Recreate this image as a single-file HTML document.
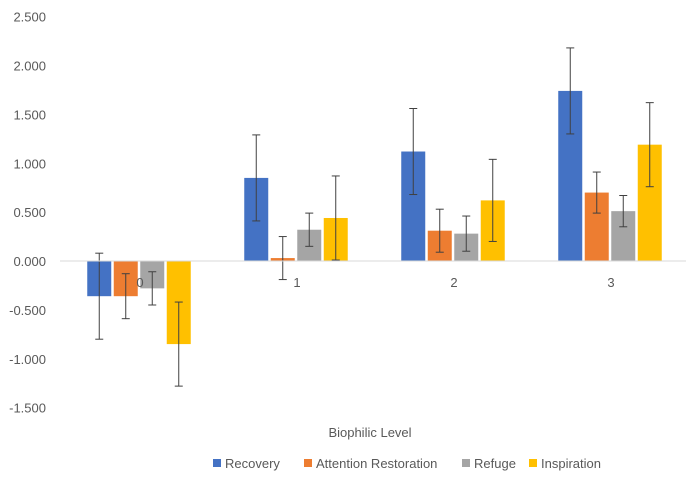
<!DOCTYPE html>
<html><head><meta charset="utf-8"><style>
body{margin:0;background:#fff;width:688px;height:487px;overflow:hidden}
text{font-family:"Liberation Sans",sans-serif;fill:#595959;font-size:13px}
</style></head><body>
<svg width="688" height="487">
<g id="ticks"></g><g id="bars"></g>
<line x1="60" x2="686" y1="261" y2="261" stroke="#d9d9d9"/>
<g id="cats"></g>
<text x="370" y="437" text-anchor="middle">Biophilic Level</text>
<g id="legend"></g>
</svg>
<script>
const categories=["0","1","2","3"];
const seriesNames=["Recovery","Attention Restoration","Refuge","Inspiration"];
const recovery=[-0.36,0.85,1.12,1.74];
const attention=[-0.36,0.03,0.31,0.70];
const refuge=[-0.28,0.32,0.28,0.51];
const inspiration=[-0.85,0.44,0.62,1.19];
const recoveryErr=[0.44,0.44,0.44,0.44];
const attentionErr=[0.23,0.22,0.22,0.21];
const refugeErr=[0.17,0.17,0.18,0.16];
const inspirationErr=[0.43,0.43,0.42,0.43];
const tickValues=[2.5,2,1.5,1,0.5,0,-0.5,-1,-1.5];
const colors=["#4472C4","#ED7D31","#A5A5A5","#FFC000"];
const NS="http://www.w3.org/2000/svg";
const y=v=>261-v*97.75;
const xc=i=>139+i*157;
function mk(t,a,p){const e=document.createElementNS(NS,t);for(const k in a)e.setAttribute(k,a[k]);p.appendChild(e);return e;}
const tk=document.getElementById('ticks');
tickValues.forEach(v=>{const t=mk('text',{x:46,y:y(v)+5,'text-anchor':'end'},tk);t.textContent=v.toFixed(3);

});
const data=[recovery,attention,refuge,inspiration],errs=[recoveryErr,attentionErr,refugeErr,inspirationErr];
const bg=document.getElementById('bars');
const bw=24,step=26.5;
data.forEach((s,si)=>s.forEach((v,ci)=>{
 const cx=xc(ci)+(si-1.5)*step;
 const r=mk('rect',{x:cx-bw/2,y:Math.min(y(v),y(0)),width:bw,height:Math.abs(y(v)-y(0)),fill:colors[si]},bg);
 
 
 const e=errs[si][ci],g=mk('g',{stroke:'#404040','stroke-width':1},bg);
 
 
 mk('line',{x1:cx,x2:cx,y1:y(v+e),y2:y(v-e)},g);
 mk('line',{x1:cx-4,x2:cx+4,y1:y(v+e),y2:y(v+e)},g);
 mk('line',{x1:cx-4,x2:cx+4,y1:y(v-e),y2:y(v-e)},g);
}));
const cg=document.getElementById('cats');
categories.forEach((c,i)=>{const t=mk('text',{x:xc(i)+1,y:287,'text-anchor':'middle'},cg);t.textContent=c;

});
const lg=document.getElementById('legend');
const lx=[213,304,462,529];
seriesNames.forEach((n,i)=>{
 const g=mk('g',{},lg);
 
 
 mk('rect',{x:lx[i],y:459,width:8,height:8,fill:colors[i]},g);
 const t=mk('text',{x:lx[i]+12,y:468},g);t.textContent=n;
});
</script>
</body></html>
